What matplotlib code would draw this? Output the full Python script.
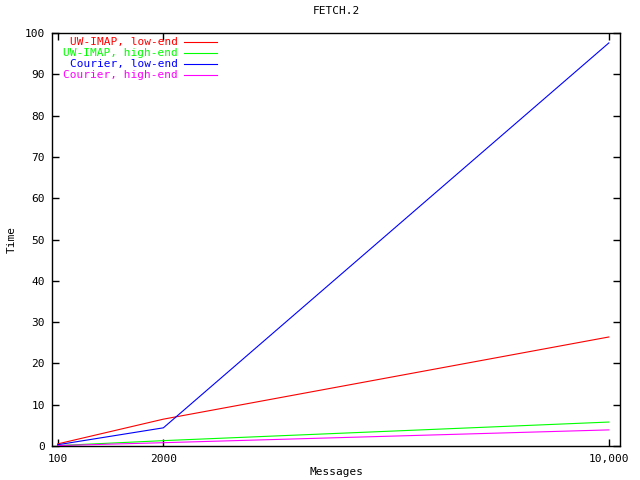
import matplotlib
matplotlib.use('Agg')
import matplotlib.pyplot as plt

messages = [100, 2000, 10000]
xtick_labels = ['100', '2000', '10,000']
uw_low = [0.5, 6.5, 26.4]
uw_high = [0.1, 1.3, 5.8]
courier_low = [0.3, 4.4, 97.6]
courier_high = [0.1, 0.8, 3.9]

series = [
    ('UW-IMAP, low-end', uw_low, '#ff0000'),
    ('UW-IMAP, high-end', uw_high, '#00ff00'),
    ('Courier, low-end', courier_low, '#0000ff'),
    ('Courier, high-end', courier_high, '#ff00ff'),
]

plt.rcParams['font.family'] = 'DejaVu Sans Mono'
plt.rcParams['font.size'] = 8

fig = plt.figure(figsize=(6.4, 4.8), dpi=100)
ax = fig.add_axes([52/640, 34/480, 568/640, 413/480])

for label, vals, col in series:
    ax.plot(messages, vals, color=col, lw=0.8)

ax.set_xlim(0, 10200)
ax.set_ylim(0, 100)
ax.set_xticks(messages)
ax.set_xticklabels(xtick_labels)
ax.set_yticks(range(0, 101, 10))
ax.tick_params(direction='in', top=True, right=True, length=5, width=1)
ax.tick_params(axis='x', pad=6)
ax.tick_params(axis='y', pad=5)
for s in ax.spines.values():
    s.set_linewidth(1)

ax.set_xlabel('Messages', labelpad=2)
ax.set_ylabel('Time', labelpad=6)
ax.set_title('FETCH.2', fontsize=8, pad=14)

# legend drawn gnuplot style: right-aligned text, line sample after it
for i, (label, vals, col) in enumerate(series):
    y = 1 - (9 + 11 * i) / 413
    ax.text((178 - 52) / 568, y, label, color=col, ha='right', va='center',
            transform=ax.transAxes)
    ax.plot([(184 - 52) / 568, (217 - 52) / 568], [y, y], color=col, lw=0.8,
            transform=ax.transAxes)

fig.savefig('out.png', dpi=100)
